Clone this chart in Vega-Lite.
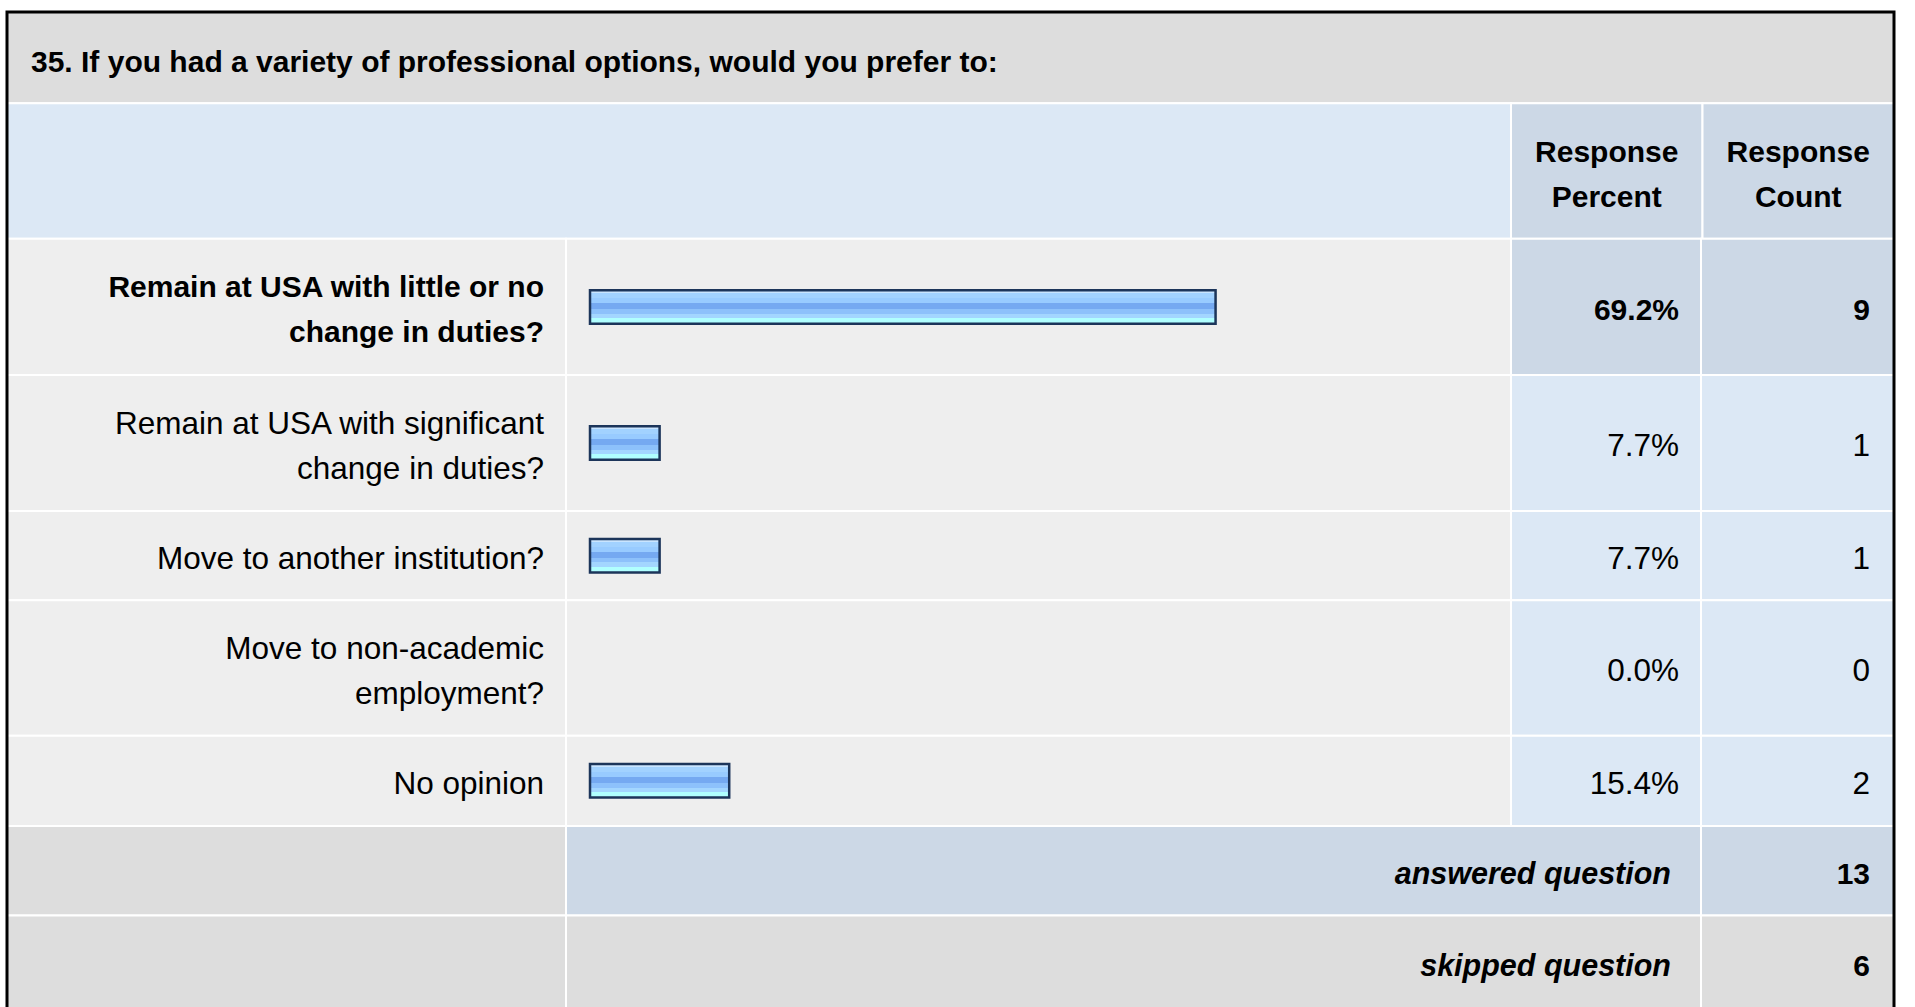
{
  "$schema": "https://vega.github.io/schema/vega-lite/v6.json",
  "width": 1887,
  "height": 995,
  "autosize": {"type": "none"},
  "padding": {"left": 7, "top": 12, "right": 21, "bottom": 0},
  "background": "#FFFFFF",
  "config": {"view": {"stroke": null}, "text": {"font": "Liberation Sans", "color": "#000000"}},
  "datasets": {
    "question": [{"q": "35. If you had a variety of professional options, would you prefer to:"}],
    "headers": [{"column": "Response Percent"}, {"column": "Response Count"}],
    "rows": [
      {"answer": "Remain at USA with little or no\nchange in duties?", "percent": 0.692, "count": 9},
      {"answer": "Remain at USA with significant\nchange in duties?", "percent": 0.077, "count": 1},
      {"answer": "Move to another institution?", "percent": 0.077, "count": 1},
      {"answer": "Move to non-academic\nemployment?", "percent": 0.0, "count": 0},
      {"answer": "No opinion", "percent": 0.154, "count": 2},
      {"summary": "answered question", "count": 13},
      {"summary": "skipped question", "count": 6}
    ]
  },
  "resolve": {"scale": {"x": "independent", "y": "independent"}},
  "layer": [
    {
      "data": {"name": "question"},
      "mark": {"type": "rect", "fill": "#DDDDDD", "stroke": "#FFFFFF", "strokeWidth": 2},
      "encoding": {
        "x": {"datum": 0, "type": "quantitative", "axis": null, "scale": {"type": "linear", "domain": [0, 1, 2, 3, 4], "range": [0, 559, 1504, 1694, 1887], "zero": false, "nice": false}},
        "x2": {"datum": 4},
        "y": {"datum": -2, "type": "quantitative", "axis": null, "scale": {"type": "linear", "domain": [-2, -1, 0, 1, 2, 3, 4, 5, 6, 7], "range": [0, 91.3, 226.8, 363, 499, 588.3, 723.7, 814, 903.5, 998], "zero": false, "nice": false}},
        "y2": {"datum": -1}
      }
    },
    {
      "data": {"name": "question"},
      "mark": {"type": "rect", "fill": "#DCE8F5", "stroke": "#FFFFFF", "strokeWidth": 2},
      "encoding": {
        "x": {"datum": 0, "type": "quantitative", "axis": null, "scale": {"type": "linear", "domain": [0, 1, 2, 3, 4], "range": [0, 559, 1504, 1694, 1887], "zero": false, "nice": false}},
        "x2": {"datum": 2},
        "y": {"datum": -1, "type": "quantitative", "axis": null, "scale": {"type": "linear", "domain": [-2, -1, 0, 1, 2, 3, 4, 5, 6, 7], "range": [0, 91.3, 226.8, 363, 499, 588.3, 723.7, 814, 903.5, 998], "zero": false, "nice": false}},
        "y2": {"datum": 0}
      }
    },
    {
      "data": {"name": "headers"},
      "mark": {"type": "rect", "fill": "#CCD8E6", "stroke": "#FFFFFF", "strokeWidth": 2},
      "encoding": {
        "x": {"field": "column", "type": "nominal", "axis": null, "scale": {"type": "band", "domain": ["Response Percent", "Response Count"], "range": [1504, 1887], "paddingInner": 0, "paddingOuter": 0}},
        "y": {"datum": -1, "type": "quantitative", "axis": null, "scale": {"type": "linear", "domain": [-2, -1, 0, 1, 2, 3, 4, 5, 6, 7], "range": [0, 91.3, 226.8, 363, 499, 588.3, 723.7, 814, 903.5, 998], "zero": false, "nice": false}},
        "y2": {"datum": 0}
      }
    },
    {
      "data": {"name": "rows"},
      "transform": [
        {"window": [{"op": "row_number", "as": "rn"}]},
        {"window": [{"op": "count", "as": "prev"}], "frame": [null, -1]},
        {"filter": "isValid(datum.answer)"}
      ],
      "mark": {"type": "rect", "fill": "#EEEEEE", "stroke": "#FFFFFF", "strokeWidth": 2},
      "encoding": {
        "x": {"datum": 0, "type": "quantitative", "axis": null, "scale": {"type": "linear", "domain": [0, 1, 2, 3, 4], "range": [0, 559, 1504, 1694, 1887], "zero": false, "nice": false}},
        "x2": {"datum": 1},
        "y": {"field": "prev", "type": "quantitative", "axis": null, "scale": {"type": "linear", "domain": [-2, -1, 0, 1, 2, 3, 4, 5, 6, 7], "range": [0, 91.3, 226.8, 363, 499, 588.3, 723.7, 814, 903.5, 998], "zero": false, "nice": false}},
        "y2": {"field": "rn"}
      }
    },
    {
      "data": {"name": "rows"},
      "transform": [
        {"window": [{"op": "row_number", "as": "rn"}]},
        {"window": [{"op": "count", "as": "prev"}], "frame": [null, -1]},
        {"filter": "isValid(datum.answer)"}
      ],
      "mark": {"type": "rect", "fill": "#EEEEEE", "stroke": "#FFFFFF", "strokeWidth": 2},
      "encoding": {
        "x": {"datum": 1, "type": "quantitative", "axis": null, "scale": {"type": "linear", "domain": [0, 1, 2, 3, 4], "range": [0, 559, 1504, 1694, 1887], "zero": false, "nice": false}},
        "x2": {"datum": 2},
        "y": {"field": "prev", "type": "quantitative", "axis": null, "scale": {"type": "linear", "domain": [-2, -1, 0, 1, 2, 3, 4, 5, 6, 7], "range": [0, 91.3, 226.8, 363, 499, 588.3, 723.7, 814, 903.5, 998], "zero": false, "nice": false}},
        "y2": {"field": "rn"}
      }
    },
    {
      "data": {"name": "rows"},
      "transform": [
        {"window": [{"op": "row_number", "as": "rn"}]},
        {"window": [{"op": "count", "as": "prev"}], "frame": [null, -1]},
        {"filter": "isValid(datum.answer)"},
        {"joinaggregate": [{"op": "max", "field": "count", "as": "top"}]}
      ],
      "mark": {"type": "rect", "stroke": "#FFFFFF", "strokeWidth": 2},
      "encoding": {
        "x": {"datum": 2, "type": "quantitative", "axis": null, "scale": {"type": "linear", "domain": [0, 1, 2, 3, 4], "range": [0, 559, 1504, 1694, 1887], "zero": false, "nice": false}},
        "x2": {"datum": 3},
        "y": {"field": "prev", "type": "quantitative", "axis": null, "scale": {"type": "linear", "domain": [-2, -1, 0, 1, 2, 3, 4, 5, 6, 7], "range": [0, 91.3, 226.8, 363, 499, 588.3, 723.7, 814, 903.5, 998], "zero": false, "nice": false}},
        "y2": {"field": "rn"},
        "fill": {"condition": {"test": "datum.count === datum.top", "value": "#CCD8E6"}, "value": "#DCE8F5"}
      }
    },
    {
      "data": {"name": "rows"},
      "transform": [
        {"window": [{"op": "row_number", "as": "rn"}]},
        {"window": [{"op": "count", "as": "prev"}], "frame": [null, -1]},
        {"filter": "isValid(datum.answer)"},
        {"joinaggregate": [{"op": "max", "field": "count", "as": "top"}]}
      ],
      "mark": {"type": "rect", "stroke": "#FFFFFF", "strokeWidth": 2},
      "encoding": {
        "x": {"datum": 3, "type": "quantitative", "axis": null, "scale": {"type": "linear", "domain": [0, 1, 2, 3, 4], "range": [0, 559, 1504, 1694, 1887], "zero": false, "nice": false}},
        "x2": {"datum": 4},
        "y": {"field": "prev", "type": "quantitative", "axis": null, "scale": {"type": "linear", "domain": [-2, -1, 0, 1, 2, 3, 4, 5, 6, 7], "range": [0, 91.3, 226.8, 363, 499, 588.3, 723.7, 814, 903.5, 998], "zero": false, "nice": false}},
        "y2": {"field": "rn"},
        "fill": {"condition": {"test": "datum.count === datum.top", "value": "#CCD8E6"}, "value": "#DCE8F5"}
      }
    },
    {
      "data": {"name": "rows"},
      "transform": [
        {"window": [{"op": "row_number", "as": "rn"}]},
        {"window": [{"op": "count", "as": "prev"}], "frame": [null, -1]},
        {"filter": "isValid(datum.summary)"}
      ],
      "mark": {"type": "rect", "fill": "#DDDDDD", "stroke": "#FFFFFF", "strokeWidth": 2},
      "encoding": {
        "x": {"datum": 0, "type": "quantitative", "axis": null, "scale": {"type": "linear", "domain": [0, 1, 2, 3, 4], "range": [0, 559, 1504, 1694, 1887], "zero": false, "nice": false}},
        "x2": {"datum": 1},
        "y": {"field": "prev", "type": "quantitative", "axis": null, "scale": {"type": "linear", "domain": [-2, -1, 0, 1, 2, 3, 4, 5, 6, 7], "range": [0, 91.3, 226.8, 363, 499, 588.3, 723.7, 814, 903.5, 998], "zero": false, "nice": false}},
        "y2": {"field": "rn"}
      }
    },
    {
      "data": {"name": "rows"},
      "transform": [
        {"window": [{"op": "row_number", "as": "rn"}]},
        {"window": [{"op": "count", "as": "prev"}], "frame": [null, -1]},
        {"filter": "isValid(datum.summary)"}
      ],
      "mark": {"type": "rect", "stroke": "#FFFFFF", "strokeWidth": 2},
      "encoding": {
        "x": {"datum": 1, "type": "quantitative", "axis": null, "scale": {"type": "linear", "domain": [0, 1, 2, 3, 4], "range": [0, 559, 1504, 1694, 1887], "zero": false, "nice": false}},
        "x2": {"datum": 3},
        "y": {"field": "prev", "type": "quantitative", "axis": null, "scale": {"type": "linear", "domain": [-2, -1, 0, 1, 2, 3, 4, 5, 6, 7], "range": [0, 91.3, 226.8, 363, 499, 588.3, 723.7, 814, 903.5, 998], "zero": false, "nice": false}},
        "y2": {"field": "rn"},
        "fill": {"condition": {"test": "datum.summary === 'answered question'", "value": "#CCD8E6"}, "value": "#DDDDDD"}
      }
    },
    {
      "data": {"name": "rows"},
      "transform": [
        {"window": [{"op": "row_number", "as": "rn"}]},
        {"window": [{"op": "count", "as": "prev"}], "frame": [null, -1]},
        {"filter": "isValid(datum.summary)"}
      ],
      "mark": {"type": "rect", "stroke": "#FFFFFF", "strokeWidth": 2},
      "encoding": {
        "x": {"datum": 3, "type": "quantitative", "axis": null, "scale": {"type": "linear", "domain": [0, 1, 2, 3, 4], "range": [0, 559, 1504, 1694, 1887], "zero": false, "nice": false}},
        "x2": {"datum": 4},
        "y": {"field": "prev", "type": "quantitative", "axis": null, "scale": {"type": "linear", "domain": [-2, -1, 0, 1, 2, 3, 4, 5, 6, 7], "range": [0, 91.3, 226.8, 363, 499, 588.3, 723.7, 814, 903.5, 998], "zero": false, "nice": false}},
        "y2": {"field": "rn"},
        "fill": {"condition": {"test": "datum.summary === 'answered question'", "value": "#CCD8E6"}, "value": "#DDDDDD"}
      }
    },
    {
      "data": {"name": "rows"},
      "transform": [
        {"window": [{"op": "row_number", "as": "rn"}]},
        {"filter": "isValid(datum.answer) && datum.percent > 0"}
      ],
      "mark": {
        "type": "bar",
        "orient": "horizontal",
        "size": 33.5,
        "stroke": "#1C355A",
        "strokeWidth": 2.5,
        "fill": {
          "gradient": "linear", "x1": 0, "y1": 0, "x2": 0, "y2": 1,
          "stops": [
            {"offset": 0, "color": "#C9E5FF"}, {"offset": 0.085, "color": "#C9E5FF"},
            {"offset": 0.085, "color": "#A2D2FF"}, {"offset": 0.23, "color": "#A2D2FF"},
            {"offset": 0.23, "color": "#98CBFF"}, {"offset": 0.38, "color": "#98CBFF"},
            {"offset": 0.38, "color": "#75A9F1"}, {"offset": 0.57, "color": "#75A9F1"},
            {"offset": 0.57, "color": "#8DC1FB"}, {"offset": 0.7, "color": "#8DC1FB"},
            {"offset": 0.7, "color": "#A3D6FF"}, {"offset": 0.83, "color": "#A3D6FF"},
            {"offset": 0.83, "color": "#B0FFFF"}, {"offset": 1, "color": "#B0FFFF"}
          ]
        }
      },
      "encoding": {
        "x": {"field": "percent", "type": "quantitative", "stack": null, "axis": null, "scale": {"type": "linear", "domain": [0, 1], "range": [583, 1487], "zero": true, "nice": false}},
        "y": {"field": "rn", "type": "quantitative", "axis": null, "scale": {"type": "linear", "domain": [-1, 0, 1, 2, 3, 4, 5, 6, 7], "range": [45.65, 159.05, 294.9, 431, 543.65, 656, 768.85, 858.75, 950.75], "zero": false, "nice": false}}
      }
    },
    {
      "data": {"name": "rows"},
      "transform": [
        {"window": [{"op": "row_number", "as": "rn"}]},
        {"filter": "isValid(datum.answer)"},
        {"joinaggregate": [{"op": "max", "field": "count", "as": "top"}]},
        {"filter": "datum.count === datum.top && indexof(datum.answer, '\\n') >= 0"}
      ],
      "mark": {"type": "text", "align": "right", "baseline": "middle", "fontSize": 30, "lineHeight": 45, "lineBreak": "\n", "fontWeight": "bold", "dx": -22, "dy": -18.5},
      "encoding": {
        "text": {"field": "answer", "type": "nominal"},
        "x": {"datum": 1, "type": "quantitative", "axis": null, "scale": {"type": "linear", "domain": [0, 1, 2, 3, 4], "range": [0, 559, 1504, 1694, 1887], "zero": false, "nice": false}},
        "y": {"field": "rn", "type": "quantitative", "axis": null, "scale": {"type": "linear", "domain": [-1, 0, 1, 2, 3, 4, 5, 6, 7], "range": [45.65, 159.05, 294.9, 431, 543.65, 656, 768.85, 858.75, 950.75], "zero": false, "nice": false}}
      }
    },
    {
      "data": {"name": "rows"},
      "transform": [
        {"window": [{"op": "row_number", "as": "rn"}]},
        {"filter": "isValid(datum.answer)"},
        {"joinaggregate": [{"op": "max", "field": "count", "as": "top"}]},
        {"filter": "datum.count === datum.top && indexof(datum.answer, '\\n') < 0"}
      ],
      "mark": {"type": "text", "align": "right", "baseline": "middle", "fontSize": 30, "fontWeight": "bold", "dx": -22, "dy": 4},
      "encoding": {
        "text": {"field": "answer", "type": "nominal"},
        "x": {"datum": 1, "type": "quantitative", "axis": null, "scale": {"type": "linear", "domain": [0, 1, 2, 3, 4], "range": [0, 559, 1504, 1694, 1887], "zero": false, "nice": false}},
        "y": {"field": "rn", "type": "quantitative", "axis": null, "scale": {"type": "linear", "domain": [-1, 0, 1, 2, 3, 4, 5, 6, 7], "range": [45.65, 159.05, 294.9, 431, 543.65, 656, 768.85, 858.75, 950.75], "zero": false, "nice": false}}
      }
    },
    {
      "data": {"name": "rows"},
      "transform": [
        {"window": [{"op": "row_number", "as": "rn"}]},
        {"filter": "isValid(datum.answer)"},
        {"joinaggregate": [{"op": "max", "field": "count", "as": "top"}]},
        {"filter": "datum.count !== datum.top && indexof(datum.answer, '\\n') >= 0"}
      ],
      "mark": {"type": "text", "align": "right", "baseline": "middle", "fontSize": 31.5, "lineHeight": 45, "lineBreak": "\n", "dx": -22, "dy": -18.5},
      "encoding": {
        "text": {"field": "answer", "type": "nominal"},
        "x": {"datum": 1, "type": "quantitative", "axis": null, "scale": {"type": "linear", "domain": [0, 1, 2, 3, 4], "range": [0, 559, 1504, 1694, 1887], "zero": false, "nice": false}},
        "y": {"field": "rn", "type": "quantitative", "axis": null, "scale": {"type": "linear", "domain": [-1, 0, 1, 2, 3, 4, 5, 6, 7], "range": [45.65, 159.05, 294.9, 431, 543.65, 656, 768.85, 858.75, 950.75], "zero": false, "nice": false}}
      }
    },
    {
      "data": {"name": "rows"},
      "transform": [
        {"window": [{"op": "row_number", "as": "rn"}]},
        {"filter": "isValid(datum.answer)"},
        {"joinaggregate": [{"op": "max", "field": "count", "as": "top"}]},
        {"filter": "datum.count !== datum.top && indexof(datum.answer, '\\n') < 0"}
      ],
      "mark": {"type": "text", "align": "right", "baseline": "middle", "fontSize": 31.5, "dx": -22, "dy": 4},
      "encoding": {
        "text": {"field": "answer", "type": "nominal"},
        "x": {"datum": 1, "type": "quantitative", "axis": null, "scale": {"type": "linear", "domain": [0, 1, 2, 3, 4], "range": [0, 559, 1504, 1694, 1887], "zero": false, "nice": false}},
        "y": {"field": "rn", "type": "quantitative", "axis": null, "scale": {"type": "linear", "domain": [-1, 0, 1, 2, 3, 4, 5, 6, 7], "range": [45.65, 159.05, 294.9, 431, 543.65, 656, 768.85, 858.75, 950.75], "zero": false, "nice": false}}
      }
    },
    {
      "data": {"name": "rows"},
      "transform": [
        {"window": [{"op": "row_number", "as": "rn"}]},
        {"filter": "isValid(datum.answer)"},
        {"joinaggregate": [{"op": "max", "field": "count", "as": "top"}]},
        {"filter": "datum.count === datum.top"}
      ],
      "mark": {"type": "text", "align": "right", "baseline": "middle", "fontSize": 30, "fontWeight": "bold", "dx": -22, "dy": 4},
      "encoding": {
        "text": {"field": "percent", "type": "quantitative", "format": ".1%"},
        "x": {"datum": 3, "type": "quantitative", "axis": null, "scale": {"type": "linear", "domain": [0, 1, 2, 3, 4], "range": [0, 559, 1504, 1694, 1887], "zero": false, "nice": false}},
        "y": {"field": "rn", "type": "quantitative", "axis": null, "scale": {"type": "linear", "domain": [-1, 0, 1, 2, 3, 4, 5, 6, 7], "range": [45.65, 159.05, 294.9, 431, 543.65, 656, 768.85, 858.75, 950.75], "zero": false, "nice": false}}
      }
    },
    {
      "data": {"name": "rows"},
      "transform": [
        {"window": [{"op": "row_number", "as": "rn"}]},
        {"filter": "isValid(datum.answer)"},
        {"joinaggregate": [{"op": "max", "field": "count", "as": "top"}]},
        {"filter": "datum.count !== datum.top"}
      ],
      "mark": {"type": "text", "align": "right", "baseline": "middle", "fontSize": 31.5, "dx": -22, "dy": 4},
      "encoding": {
        "text": {"field": "percent", "type": "quantitative", "format": ".1%"},
        "x": {"datum": 3, "type": "quantitative", "axis": null, "scale": {"type": "linear", "domain": [0, 1, 2, 3, 4], "range": [0, 559, 1504, 1694, 1887], "zero": false, "nice": false}},
        "y": {"field": "rn", "type": "quantitative", "axis": null, "scale": {"type": "linear", "domain": [-1, 0, 1, 2, 3, 4, 5, 6, 7], "range": [45.65, 159.05, 294.9, 431, 543.65, 656, 768.85, 858.75, 950.75], "zero": false, "nice": false}}
      }
    },
    {
      "data": {"name": "rows"},
      "transform": [
        {"window": [{"op": "row_number", "as": "rn"}]},
        {"filter": "isValid(datum.answer)"},
        {"joinaggregate": [{"op": "max", "field": "count", "as": "top"}]},
        {"filter": "datum.count === datum.top"}
      ],
      "mark": {"type": "text", "align": "right", "baseline": "middle", "fontSize": 30, "fontWeight": "bold", "dx": -24, "dy": 4},
      "encoding": {
        "text": {"field": "count", "type": "quantitative"},
        "x": {"datum": 4, "type": "quantitative", "axis": null, "scale": {"type": "linear", "domain": [0, 1, 2, 3, 4], "range": [0, 559, 1504, 1694, 1887], "zero": false, "nice": false}},
        "y": {"field": "rn", "type": "quantitative", "axis": null, "scale": {"type": "linear", "domain": [-1, 0, 1, 2, 3, 4, 5, 6, 7], "range": [45.65, 159.05, 294.9, 431, 543.65, 656, 768.85, 858.75, 950.75], "zero": false, "nice": false}}
      }
    },
    {
      "data": {"name": "rows"},
      "transform": [
        {"window": [{"op": "row_number", "as": "rn"}]},
        {"filter": "isValid(datum.answer)"},
        {"joinaggregate": [{"op": "max", "field": "count", "as": "top"}]},
        {"filter": "datum.count !== datum.top"}
      ],
      "mark": {"type": "text", "align": "right", "baseline": "middle", "fontSize": 31.5, "dx": -24, "dy": 4},
      "encoding": {
        "text": {"field": "count", "type": "quantitative"},
        "x": {"datum": 4, "type": "quantitative", "axis": null, "scale": {"type": "linear", "domain": [0, 1, 2, 3, 4], "range": [0, 559, 1504, 1694, 1887], "zero": false, "nice": false}},
        "y": {"field": "rn", "type": "quantitative", "axis": null, "scale": {"type": "linear", "domain": [-1, 0, 1, 2, 3, 4, 5, 6, 7], "range": [45.65, 159.05, 294.9, 431, 543.65, 656, 768.85, 858.75, 950.75], "zero": false, "nice": false}}
      }
    },
    {
      "data": {"name": "rows"},
      "transform": [
        {"window": [{"op": "row_number", "as": "rn"}]},
        {"filter": "isValid(datum.summary)"}
      ],
      "mark": {"type": "text", "align": "right", "baseline": "middle", "fontSize": 30.5, "fontWeight": "bold", "fontStyle": "italic", "dx": -30, "dy": 4},
      "encoding": {
        "text": {"field": "summary", "type": "nominal"},
        "x": {"datum": 3, "type": "quantitative", "axis": null, "scale": {"type": "linear", "domain": [0, 1, 2, 3, 4], "range": [0, 559, 1504, 1694, 1887], "zero": false, "nice": false}},
        "y": {"field": "rn", "type": "quantitative", "axis": null, "scale": {"type": "linear", "domain": [-1, 0, 1, 2, 3, 4, 5, 6, 7], "range": [45.65, 159.05, 294.9, 431, 543.65, 656, 768.85, 858.75, 950.75], "zero": false, "nice": false}}
      }
    },
    {
      "data": {"name": "rows"},
      "transform": [
        {"window": [{"op": "row_number", "as": "rn"}]},
        {"filter": "isValid(datum.summary)"}
      ],
      "mark": {"type": "text", "align": "right", "baseline": "middle", "fontSize": 30, "fontWeight": "bold", "dx": -24, "dy": 4},
      "encoding": {
        "text": {"field": "count", "type": "quantitative"},
        "x": {"datum": 4, "type": "quantitative", "axis": null, "scale": {"type": "linear", "domain": [0, 1, 2, 3, 4], "range": [0, 559, 1504, 1694, 1887], "zero": false, "nice": false}},
        "y": {"field": "rn", "type": "quantitative", "axis": null, "scale": {"type": "linear", "domain": [-1, 0, 1, 2, 3, 4, 5, 6, 7], "range": [45.65, 159.05, 294.9, 431, 543.65, 656, 768.85, 858.75, 950.75], "zero": false, "nice": false}}
      }
    },
    {
      "data": {"name": "question"},
      "mark": {"type": "text", "align": "left", "baseline": "middle", "fontSize": 30, "fontWeight": "bold", "dx": 24, "dy": 5},
      "encoding": {
        "text": {"field": "q", "type": "nominal"},
        "x": {"datum": 0, "type": "quantitative", "axis": null, "scale": {"type": "linear", "domain": [0, 1, 2, 3, 4], "range": [0, 559, 1504, 1694, 1887], "zero": false, "nice": false}},
        "y": {"datum": -1, "type": "quantitative", "axis": null, "scale": {"type": "linear", "domain": [-1, 0, 1, 2, 3, 4, 5, 6, 7], "range": [45.65, 159.05, 294.9, 431, 543.65, 656, 768.85, 858.75, 950.75], "zero": false, "nice": false}}
      }
    },
    {
      "data": {"name": "headers"},
      "mark": {"type": "text", "align": "center", "baseline": "middle", "fontSize": 30, "fontWeight": "bold", "lineHeight": 45, "lineBreak": " ", "dy": -18.5},
      "encoding": {
        "text": {"field": "column", "type": "nominal"},
        "x": {"field": "column", "type": "nominal", "axis": null, "scale": {"type": "band", "domain": ["Response Percent", "Response Count"], "range": [1504, 1887], "paddingInner": 0, "paddingOuter": 0}},
        "y": {"datum": 0, "type": "quantitative", "axis": null, "scale": {"type": "linear", "domain": [-1, 0, 1, 2, 3, 4, 5, 6, 7], "range": [45.65, 159.05, 294.9, 431, 543.65, 656, 768.85, 858.75, 950.75], "zero": false, "nice": false}}
      }
    },
    {
      "data": {"name": "question"},
      "mark": {"type": "rect", "filled": false, "stroke": "#000000", "strokeWidth": 3},
      "encoding": {
        "x": {"datum": 0, "type": "quantitative", "axis": null, "scale": {"type": "linear", "domain": [0, 1, 2, 3, 4], "range": [0, 559, 1504, 1694, 1887], "zero": false, "nice": false}},
        "x2": {"datum": 4},
        "y": {"datum": -2, "type": "quantitative", "axis": null, "scale": {"type": "linear", "domain": [-2, -1, 0, 1, 2, 3, 4, 5, 6, 7], "range": [0, 91.3, 226.8, 363, 499, 588.3, 723.7, 814, 903.5, 998], "zero": false, "nice": false}},
        "y2": {"datum": 7}
      }
    }
  ]
}
